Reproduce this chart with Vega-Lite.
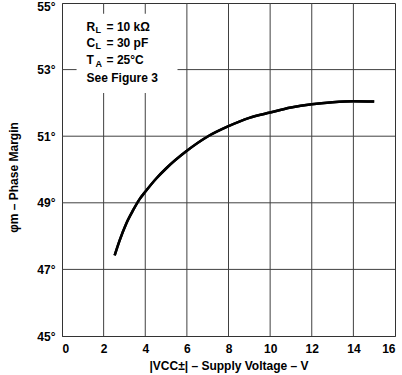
{
  "$schema": "https://vega.github.io/schema/vega-lite/v6.json",
  "width": 333,
  "height": 333,
  "autosize": {"type": "none"},
  "padding": {"left": 62, "top": 3, "right": 7, "bottom": 39},
  "background": "white",
  "config": {
    "view": {"stroke": "#333", "strokeWidth": 1},
    "font": "Liberation Sans",
    "axis": {
      "grid": false,
      "labelFont": "Liberation Sans",
      "labelFontWeight": "bold",
      "labelFontSize": 12,
      "labelColor": "black",
      "titleFont": "Liberation Sans",
      "titleFontWeight": "bold",
      "titleFontSize": 12,
      "titleColor": "black",
      "ticks": false,
      "domainColor": "#333"
    }
  },
  "datasets": {
    "vgrid": [{"g": 2}, {"g": 4}, {"g": 6}, {"g": 8}, {"g": 10}, {"g": 12}, {"g": 14}],
    "hgrid": [{"g": 47}, {"g": 49}, {"g": 51}, {"g": 53}],
    "curve": [
      {"v": 2.53, "pm": 47.42},
      {"v": 2.77, "pm": 47.87},
      {"v": 3.09, "pm": 48.38},
      {"v": 3.41, "pm": 48.77},
      {"v": 3.73, "pm": 49.11},
      {"v": 4.0, "pm": 49.33},
      {"v": 4.53, "pm": 49.73},
      {"v": 5.0, "pm": 50.03},
      {"v": 6.0, "pm": 50.56},
      {"v": 7.0, "pm": 50.99},
      {"v": 8.0, "pm": 51.3},
      {"v": 9.0, "pm": 51.55},
      {"v": 10.0, "pm": 51.71},
      {"v": 11.0, "pm": 51.86},
      {"v": 12.0, "pm": 51.96},
      {"v": 13.0, "pm": 52.02},
      {"v": 14.0, "pm": 52.05},
      {"v": 15.0, "pm": 52.04}
    ],
    "box": [{"x1": 0.7, "x2": 5.55, "y1": 52.3, "y2": 54.68}],
    "params": [
      {"t": "R", "s": "L", "r": "= 10 kΩ", "x": 1.18, "y": 54.28},
      {"t": "C", "s": "L", "r": "= 30 pF", "x": 1.18, "y": 53.8},
      {"t": "T", "s": "A", "r": "= 25°C", "x": 1.18, "y": 53.28}
    ],
    "note": [{"t": "See Figure 3", "x": 1.18, "y": 52.74}]
  },
  "layer": [
    {
      "data": {"name": "curve"},
      "mark": {"type": "line", "color": "black", "strokeWidth": 2.5, "interpolate": "monotone"},
      "encoding": {
        "x": {
          "field": "v", "type": "quantitative",
          "scale": {"domain": [0, 16], "nice": false},
          "axis": {"values": [0, 2, 4, 6, 8, 10, 12, 14, 16], "labelPadding": 7, "titlePadding": 6, "title": "|VCC±| – Supply Voltage – V"}
        },
        "y": {
          "field": "pm", "type": "quantitative",
          "scale": {"domain": [45, 55], "nice": false, "zero": false},
          "axis": {"values": [45, 47, 49, 51, 53, 55], "labelExpr": "datum.value + '°'", "labelPadding": 7, "labelOffset": {"condition": {"test": "datum.value == 55", "value": 3}, "value": 0}, "title": "φm – Phase Margin", "titleX": -49, "titleY": 174, "titleAngle": 270, "titleAlign": "center", "titleBaseline": "middle"}
        }
      }
    },
    {
      "data": {"name": "vgrid"},
      "mark": {"type": "rule", "color": "#404040", "strokeWidth": 1},
      "encoding": {"x": {"field": "g", "type": "quantitative"}}
    },
    {
      "data": {"name": "hgrid"},
      "mark": {"type": "rule", "color": "#404040", "strokeWidth": 1},
      "encoding": {"y": {"field": "g", "type": "quantitative"}}
    },
    {
      "data": {"name": "curve"},
      "mark": {"type": "line", "color": "black", "strokeWidth": 2.5, "interpolate": "monotone"},
      "encoding": {
        "x": {"field": "v", "type": "quantitative"},
        "y": {"field": "pm", "type": "quantitative"}
      }
    },
    {
      "data": {"name": "box"},
      "mark": {"type": "rect", "fill": "white"},
      "encoding": {
        "x": {"field": "x1", "type": "quantitative"},
        "x2": {"field": "x2"},
        "y": {"field": "y1", "type": "quantitative"},
        "y2": {"field": "y2"}
      }
    },
    {
      "data": {"name": "params"},
      "mark": {"type": "text", "align": "left", "baseline": "middle", "fontSize": 12, "fontWeight": "bold", "font": "Liberation Sans", "color": "black"},
      "encoding": {
        "x": {"field": "x", "type": "quantitative"},
        "y": {"field": "y", "type": "quantitative"},
        "text": {"field": "t"}
      }
    },
    {
      "data": {"name": "params"},
      "mark": {"type": "text", "align": "left", "baseline": "middle", "fontSize": 9, "fontWeight": "bold", "font": "Liberation Sans", "color": "black", "dx": 9, "dy": 3.5},
      "encoding": {
        "x": {"field": "x", "type": "quantitative"},
        "y": {"field": "y", "type": "quantitative"},
        "text": {"field": "s"}
      }
    },
    {
      "data": {"name": "params"},
      "mark": {"type": "text", "align": "left", "baseline": "middle", "fontSize": 12, "fontWeight": "bold", "font": "Liberation Sans", "color": "black", "dx": 20},
      "encoding": {
        "x": {"field": "x", "type": "quantitative"},
        "y": {"field": "y", "type": "quantitative"},
        "text": {"field": "r"}
      }
    },
    {
      "data": {"name": "note"},
      "mark": {"type": "text", "align": "left", "baseline": "middle", "fontSize": 12, "fontWeight": "bold", "font": "Liberation Sans", "color": "black"},
      "encoding": {
        "x": {"field": "x", "type": "quantitative"},
        "y": {"field": "y", "type": "quantitative"},
        "text": {"field": "t"}
      }
    }
  ]
}
